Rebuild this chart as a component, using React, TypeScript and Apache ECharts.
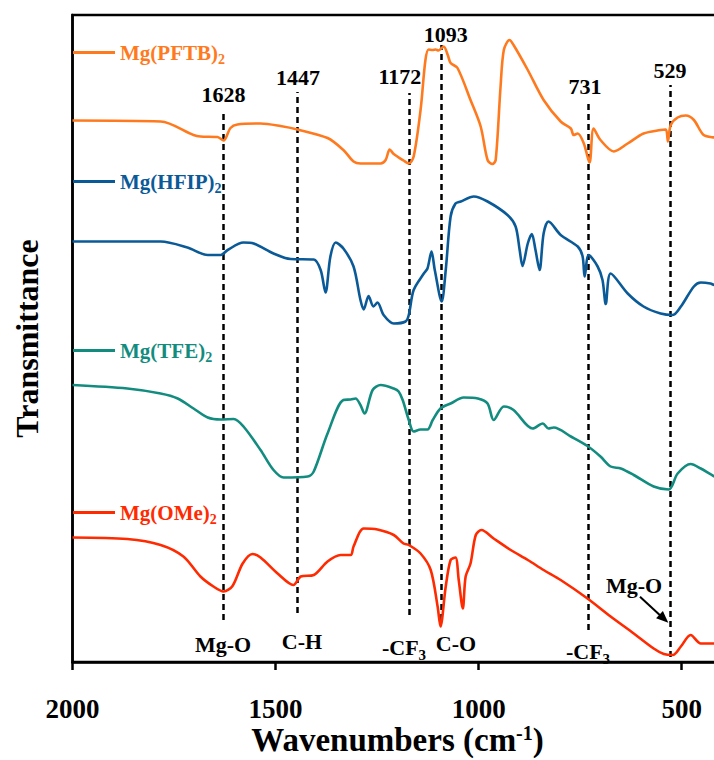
import React, { useEffect, useRef } from "react";
import * as echarts from "echarts";

const FONT = "'Liberation Serif', 'Times New Roman', serif";

// [wavenumber (cm-1), offset transmittance (a.u.)]
const pftb: [number, number][] = [
  [2000, 108.3], [1783, 108.1], [1702, 105.4], [1685, 105.1], [1643, 105.0], [1628, 104.3],
  [1611, 106.8], [1594, 107.5], [1537, 107.7], [1488, 107.2], [1446, 106.5], [1372, 104.8],
  [1333, 102.4], [1308, 100.1], [1291, 99.7], [1241, 99.7], [1229, 100.4], [1219, 102.5],
  [1209, 101.6], [1185, 100.3], [1172, 99.7], [1160, 101.1], [1143, 110.4], [1131, 120.4],
  [1123, 122.5], [1113, 122.4], [1106, 122.5], [1099, 122.3], [1086, 123.1], [1076, 121.4],
  [1069, 119.8], [1052, 118.8], [1020, 112.4], [995, 107.1], [978, 100.4], [966, 99.6],
  [958, 100.4], [946, 115.1], [938, 122.4], [924, 124.4], [914, 123.4], [879, 118.4],
  [840, 112.4], [798, 108.1], [773, 106.7], [766, 105.4], [756, 105.7], [741, 103.7],
  [727, 99.9], [717, 106.7], [700, 104.4], [667, 102.1], [633, 103.7], [594, 105.7],
  [552, 106.4], [539, 106.5], [534, 104.1], [527, 107.4], [510, 108.9], [490, 109.3],
  [470, 108.4], [446, 105.4], [419, 104.9], [400, 104.8],
];

const hfip: [number, number][] = [
  [2000, 84.1], [1783, 84.1], [1717, 82.9], [1667, 81.4], [1635, 81.4], [1618, 82.4],
  [1579, 83.9], [1554, 83.7], [1505, 81.7], [1463, 80.6], [1406, 80.5], [1389, 78.4],
  [1377, 73.9], [1365, 81.1], [1352, 83.9], [1333, 82.7], [1308, 79.1], [1291, 72.4],
  [1283, 70.5], [1271, 73.2], [1259, 71.1], [1249, 71.9], [1234, 69.4], [1209, 67.7],
  [1180, 68.1], [1172, 69.4], [1160, 74.4], [1135, 77.7], [1126, 78.7], [1116, 82.1],
  [1108, 78.4], [1091, 72.1], [1081, 78.4], [1069, 89.1], [1057, 91.7], [1044, 92.1],
  [1012, 93.1], [978, 92.1], [929, 89.4], [909, 87.1], [899, 82.4], [892, 79.2],
  [879, 83.7], [869, 85.6], [860, 82.4], [850, 78.4], [840, 85.7], [828, 88.1],
  [798, 85.4], [756, 83.1], [744, 81.1], [739, 77.1], [729, 81.4], [707, 79.1],
  [695, 76.4], [687, 71.6], [675, 77.7], [633, 73.7], [594, 71.1], [552, 69.7],
  [522, 69.4], [502, 71.1], [470, 75.1], [453, 75.9], [429, 75.7], [419, 75.4], [400, 75.4],
];

const tfe: [number, number][] = [
  [2000, 55.4], [1865, 54.7], [1783, 53.7], [1741, 52.7], [1702, 50.7], [1667, 48.9],
  [1635, 48.5], [1603, 48.6], [1579, 47.1], [1537, 42.4], [1505, 38.4], [1480, 36.9],
  [1421, 37.1], [1406, 38.1], [1372, 45.7], [1333, 52.4], [1315, 52.5], [1303, 52.7],
  [1291, 51.4], [1281, 49.7], [1261, 54.4], [1241, 55.4], [1209, 54.7], [1197, 54.1],
  [1187, 52.4], [1172, 48.4], [1160, 46.1], [1143, 46.5], [1126, 46.5], [1113, 48.4],
  [1094, 50.7], [1069, 51.7], [1037, 52.9], [1002, 52.7], [978, 51.7], [963, 48.4],
  [938, 51.1], [914, 50.4], [867, 46.7], [842, 47.7], [828, 46.7], [815, 46.9],
  [773, 45.1], [732, 43.2], [700, 41.1], [675, 39.1], [650, 38.7], [618, 37.4],
  [569, 35.1], [532, 34.5], [510, 37.7], [478, 39.6], [453, 38.7], [419, 37.1], [400, 36.8],
];

const ome: [number, number][] = [
  [2000, 24.9], [1865, 24.6], [1783, 23.4], [1727, 21.1], [1685, 17.1], [1653, 15.1],
  [1628, 14.1], [1606, 15.2], [1581, 19.7], [1557, 21.6], [1537, 20.9], [1495, 17.7],
  [1456, 15.4], [1438, 17.1], [1406, 17.4], [1372, 20.1], [1340, 21.4], [1315, 21.4],
  [1308, 23.1], [1283, 26.7], [1249, 26.5], [1209, 25.4], [1185, 23.7], [1172, 23.4],
  [1143, 21.7], [1118, 18.4], [1101, 11.1], [1094, 7.1], [1081, 15.1], [1069, 20.4],
  [1057, 20.9], [1049, 16.4], [1039, 10.7], [1032, 17.1], [1020, 19.7], [1007, 25.4],
  [993, 26.4], [963, 24.7], [921, 22.4], [879, 20.4], [840, 18.4], [798, 16.4],
  [732, 12.7], [675, 9.1], [618, 5.7], [569, 2.7], [544, 1.6], [522, 1.4],
  [502, 3.1], [478, 5.4], [453, 3.7], [419, 3.7], [400, 3.7],
];

const seriesNames = ["Mg(PFTB)2", "Mg(HFIP)2", "Mg(TFE)2", "Mg(OMe)2"];
const seriesBase = ["Mg(PFTB)", "Mg(HFIP)", "Mg(TFE)", "Mg(OMe)"];
const seriesColors = ["#FF7A1E", "#0B5A98", "#138C80", "#FF2A00"];
const seriesData = [pftb, hfip, tfe, ome];

const peakWn = [1628, 1447, 1172, 1093, 731, 529];
const peakTop = [110.4, 114, 113.8, 123.4, 112.4, 115.4];
const peakBottom = [8.4, 9.8, 9.4, 8.4, 6.4, 1.0];
const peakLabelDist = [5, 4, 6, 0, 3, 4];
const peakLabelDx = [0, 1, -9, 5, -3, 0];

const xTicks = [500, 1000, 1500, 2000];

const legendTops = [42, 171, 340, 502];

export default function App() {
  const ref = useRef<HTMLDivElement>(null);
  useEffect(() => {
    if (!ref.current) return;
    const chart = echarts.init(ref.current, undefined, { renderer: "svg" });

    const richSub = (color: string, size: number, sub: number, lh: number) => ({
      a: { fontFamily: FONT, fontWeight: "bold", fontSize: size, color, lineHeight: lh },
      b: { fontFamily: FONT, fontWeight: "bold", fontSize: sub, color, lineHeight: lh, verticalAlign: "bottom" },
    });

    const markLineData = peakWn.map((w, i) => [
      {
        coord: [w, peakBottom[i]],
        label: {
          show: true,
          position: "end",
          formatter: String(w),
          distance: peakLabelDist[i],
          offset: [peakLabelDx[i], 0],
          fontFamily: FONT,
          fontWeight: "bold",
          fontSize: 22,
          color: "#000",
        },
      },
      { coord: [w, peakTop[i]] },
    ]);

    const series: any[] = seriesData.map((d, i) => ({
      name: seriesNames[i],
      type: "line",
      data: d,
      showSymbol: false,
      symbol: "none",
      smooth: 0.3,
      lineStyle: { color: seriesColors[i], width: 2.6 },
      itemStyle: { color: seriesColors[i] },
      z: 3,
    }));
    series[0].markLine = {
      silent: true,
      symbol: "none",
      lineStyle: { color: "#000", width: 2.5, type: [6, 4] },
      data: markLineData,
      z: 2,
    };

    const bandText = (x: number, y: number, text: string) => ({
      type: "text",
      x,
      y,
      style: {
        text,
        fill: "#000",
        font: `bold 22px ${FONT}`,
        align: "center",
        verticalAlign: "middle",
      },
    });
    const bandTextCF = (x: number, y: number) => ({
      type: "text",
      x,
      y,
      style: {
        text: "{a|-CF}{b|3}",
        align: "center",
        verticalAlign: "middle",
        rich: richSub("#000", 22, 15, 30),
      },
    });

    const option: any = {
      animation: false,
      grid: {
        left: 72.5,
        width: 662,
        top: 15,
        bottom: 98,
        show: true,
        containLabel: false,
        outerBoundsMode: "none",
        borderColor: "#000",
        borderWidth: 2.5,
        backgroundColor: "transparent",
      },
      legend: seriesNames.map((n, i) => ({
        data: [n],
        left: 73,
        top: legendTops[i],
        padding: 0,
        icon: "rect",
        itemWidth: 42,
        itemHeight: 3,
        selectedMode: false,
        formatter: () => `{a|${seriesBase[i]}}{b|2}`,
        textStyle: { rich: richSub(seriesColors[i], 21, 14, 28) },
      })),
      xAxis: {
        type: "value",
        inverse: true,
        min: 370,
        max: 2000,
        axisLine: { show: true, lineStyle: { color: "#000", width: 2.5 } },
        axisTick: {
          show: true,
          length: 8,
          customValues: xTicks,
          lineStyle: { color: "#000", width: 2.5 },
        },
        axisLabel: {
          customValues: xTicks,
          formatter: (v: number) => String(v),
          margin: 35,
          lineHeight: 24,
          fontFamily: FONT,
          fontWeight: "bold",
          fontSize: 27,
          color: "#000",
        },
        splitLine: { show: false },
        name: "{a|Wavenumbers (cm}{s|-1}{a|)}",
        nameLocation: "middle",
        nameGap: 61,
        nameMoveOverlap: false,
        nameTextStyle: {
          padding: [0, 12, 0, 0],
          rich: {
            a: { fontFamily: FONT, fontWeight: "bold", fontSize: 33, color: "#000", lineHeight: 34 },
            s: { fontFamily: FONT, fontWeight: "bold", fontSize: 20, color: "#000", lineHeight: 34, verticalAlign: "top" },
          },
        },
      },
      yAxis: {
        type: "value",
        min: 0,
        max: 129.4,
        axisLine: { show: true, lineStyle: { color: "#000", width: 2.5 } },
        axisTick: { show: false },
        axisLabel: { show: false },
        splitLine: { show: false },
        name: "Transmittance",
        nameLocation: "middle",
        nameGap: 30,
        nameMoveOverlap: false,
        nameTextStyle: {
          fontFamily: FONT,
          fontWeight: "bold",
          fontSize: 32,
          lineHeight: 32,
          color: "#000",
        },
      },
      graphic: [
        bandText(223, 644, "Mg-O"),
        bandText(302, 641, "C-H"),
        bandTextCF(404, 647),
        bandText(456, 643, "C-O"),
        bandTextCF(588, 651),
        bandText(634, 585, "Mg-O"),
        {
          type: "line",
          shape: { x1: 640, y1: 596.7, x2: 660, y2: 615.3 },
          style: { stroke: "#000", lineWidth: 2 },
        },
        {
          type: "polygon",
          shape: { points: [[668.3, 622.7], [656.1, 618.3], [662.9, 610.9]] },
          style: { fill: "#000" },
        },
      ],
      series,
    };
    chart.setOption(option);
    return () => chart.dispose();
  }, []);

  return (
    <div
      ref={ref}
      style={{ position: "absolute", left: 0, top: 0, width: 714, height: 760, background: "#fff" }}
    />
  );
}
